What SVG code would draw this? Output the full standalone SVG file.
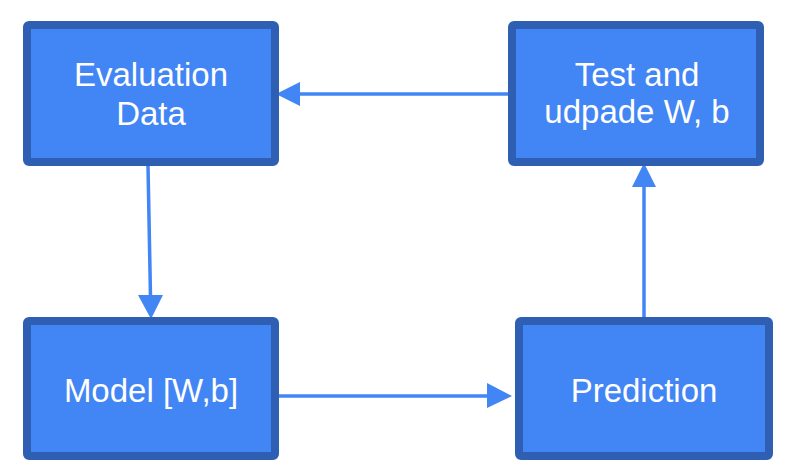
<svg xmlns="http://www.w3.org/2000/svg" width="793" height="472" viewBox="0 0 793 472">
<style>
.box{fill:#4285f4;stroke:#2f5fb3;stroke-width:8}
.lbl{fill:#ffffff;font-family:"Liberation Sans",Arial,sans-serif;font-size:33px;text-anchor:middle}
.edge{stroke:#4285f4;stroke-width:3.5;fill:none}
.head{fill:#4285f4}
</style>
<rect width="793" height="472" fill="#ffffff"/>
<g id="connectors">
<line class="edge" x1="508" y1="94" x2="298" y2="94"/>
<polygon class="head" points="276,94 300,82 300,106"/>
<line class="edge" x1="148" y1="166" x2="150.5" y2="297"/>
<polygon class="head" points="151,319 138,295 163,295"/>
<line class="edge" x1="644" y1="320" x2="644" y2="185"/>
<polygon class="head" points="644,163 632,187 656,187"/>
<line class="edge" x1="275" y1="396" x2="489" y2="396"/>
<polygon class="head" points="512,396 487,383 487,408"/>
</g>
<g id="node-evaluation">
<rect class="box" x="27" y="25" width="248" height="137" rx="2"/>
<text class="lbl" x="151" y="86">Evaluation</text>
<text class="lbl" x="151" y="125">Data</text>
</g>
<g id="node-test">
<rect class="box" x="512" y="25" width="248" height="137" rx="2"/>
<text class="lbl" x="637" y="86">Test and</text>
<text class="lbl" x="637" y="123">udpade W, b</text>
</g>
<g id="node-model">
<rect class="box" x="27" y="321" width="248" height="135" rx="2"/>
<text class="lbl" x="151" y="402">Model [W,b]</text>
</g>
<g id="node-prediction">
<rect class="box" x="519" y="321" width="250" height="135" rx="2"/>
<text class="lbl" x="644" y="402">Prediction</text>
</g>
</svg>
